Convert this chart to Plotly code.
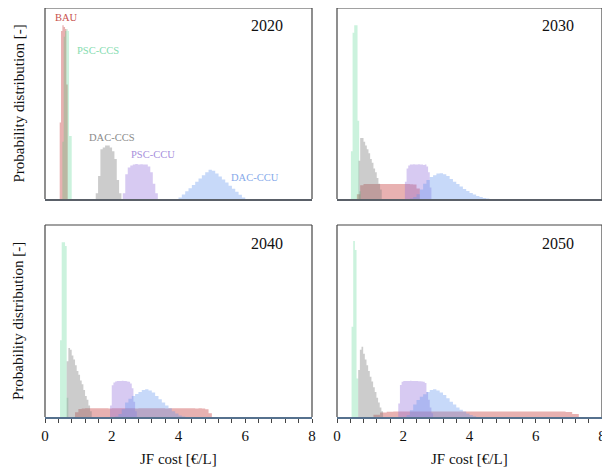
import plotly.graph_objects as go

# ---------------- data (bin start, bin width) + heights (% of panel height) ----------
years = ["2020", "2030", "2040", "2050"]
series = ["BAU", "PSC-CCS", "DAC-CCS", "PSC-CCU", "DAC-CCU"]

# 2020
bau_2020_bins = (0.44, 0.04)
bau_2020 = [40, 88, 91, 90, 89, 60]
psc_ccs_2020_bins = (0.52, 0.04)
psc_ccs_2020 = [30, 85, 88, 89, 88, 33, 33]
dac_ccs_2020_bins = (1.52, 0.07)
dac_ccs_2020 = [3, 12, 26, 27, 28, 28, 27, 25, 21, 10, 3]
psc_ccu_2020_bins = (2.33, 0.075)
psc_ccu_2020 = [3, 13, 16.5, 17.5, 18, 18.3, 18, 18.2, 18, 18, 17, 14, 8, 3]
dac_ccu_2020_bins = (4.0, 0.1)
dac_ccu_2020 = [0.8, 2.4, 4, 5.6, 7.3, 9, 10.7, 12.4, 14, 15.3, 14.8, 13.4, 11.8, 10.2,
                8.6, 7, 5.4, 3.8, 2.2, 0.8]

# 2030
bau_2030_bins = (0.6, 0.1)
bau_2030 = [2.5, 7.2, 7.8, 7.9, 7.8, 7.8, 7.9, 7.8, 7.8, 7.9, 7.8, 7.8, 7.9, 7.8, 7.8,
            7.8, 7.7, 7.6, 5.5]
psc_ccs_2030_bins = (0.42, 0.05)
psc_ccs_2030 = [25, 87, 91, 91, 41, 4]
dac_ccs_2030_bins = (0.65, 0.05)
dac_ccs_2030 = [20, 32, 32, 30, 28, 26, 24, 21, 19, 16, 14, 11, 8, 5]
psc_ccu_2030_bins = (2.05, 0.05)
psc_ccu_2030 = [9, 16, 17.5, 18, 18, 18.2, 18, 18, 18.2, 18, 18, 17.8, 18, 17, 14, 6]
dac_ccu_2030_bins = (2.2, 0.1)
dac_ccu_2030 = [0.3, 1, 2.5, 5, 8, 10, 11.5, 12.5, 13.3, 13.5, 13, 12, 10.5, 9, 7.8, 6.5,
                5.2, 4.2, 3.2, 2.3, 1.6, 1, 0.5, 0.2]

# 2040
bau_2040_bins = (0.9, 0.1)
bau_2040 = [2.5, 4.2, 4.4, 4.5, 4.5, 4.5, 4.6, 4.5, 4.5, 4.5, 4.4, 4.5, 4.5, 4.6, 4.5,
            4.5, 4.5, 4.5, 4.4, 4.5, 4.5, 4.5, 4.6, 4.5, 4.5, 4.5, 4.5, 4.4, 4.5, 4.5,
            4.5, 4.6, 4.5, 4.5, 4.5, 4.5, 4.4, 4.5, 4.4, 4.0, 2.0]
psc_ccs_2040_bins = (0.45, 0.05)
psc_ccs_2040 = [40, 91, 91, 89, 10]
dac_ccs_2040_bins = (0.65, 0.05)
dac_ccs_2040 = [29, 36, 35, 32, 30, 27, 24, 22, 19, 17, 14, 11, 9, 6, 3]
psc_ccu_2040_bins = (1.95, 0.05)
psc_ccu_2040 = [6, 16.5, 18, 18.5, 18.7, 18.8, 18.8, 18.9, 18.8, 18.7, 18.5, 18.3, 17.5,
                15, 8, 3]
dac_ccu_2040_bins = (2.1, 0.1)
dac_ccu_2040 = [0.3, 1.5, 4, 7.5, 9.5, 11, 12, 13, 14, 14.4, 13.8, 12.8, 11, 9.2, 7.5, 6,
                4.5, 3, 1.8, 0.8, 0.3]

# 2050
bau_2050_bins = (1.1, 0.2)
bau_2050 = [1.2, 2.4, 2.7, 2.8, 2.8, 2.8, 2.8, 2.8, 2.8, 2.8, 2.8, 2.8, 2.8, 2.8, 2.8,
            2.8, 2.8, 2.8, 2.8, 2.8, 2.8, 2.8, 2.8, 2.8, 2.8, 2.8, 2.8, 2.8, 2.8, 2.6, 1.5]
psc_ccs_2050_bins = (0.44, 0.05)
psc_ccs_2050 = [47, 91.7, 87, 20]
dac_ccs_2050_bins = (0.64, 0.05)
dac_ccs_2050 = [24.5, 35, 36.6, 33, 30, 27, 24, 21, 18.5, 15.5, 13, 10, 7.5, 5, 3]
psc_ccu_2050_bins = (1.85, 0.05)
psc_ccu_2050 = [7, 16.7, 18.3, 18.7, 18.7, 18.8, 18.8, 18.9, 18.8, 18.8, 18.7, 18.7, 18.6,
                18.6, 18.5, 18.3, 17.7, 13, 9, 5, 2]
dac_ccu_2050_bins = (2.1, 0.1)
dac_ccu_2050 = [1, 3.5, 6.5, 8.8, 10.5, 11.8, 13, 14, 14.4, 13.8, 12.8, 11.5, 9.8, 8, 6.5,
                5, 3.8, 2.8, 1.8, 1, 0.4]

x_ticks = [0, 2, 4, 6, 8]
x_tick_labels = ["0", "2", "4", "6", "8"]

# label positions for the 2020 panel (data coordinates)
label_x = [0.64, 1.60, 2.00, 3.23, 6.29]
label_y = [94.8, 77.6, 32.3, 23.4, 11.5]

panel_data = {
    "2020": [(bau_2020_bins, bau_2020), (psc_ccs_2020_bins, psc_ccs_2020),
             (dac_ccs_2020_bins, dac_ccs_2020), (psc_ccu_2020_bins, psc_ccu_2020),
             (dac_ccu_2020_bins, dac_ccu_2020)],
    "2030": [(bau_2030_bins, bau_2030), (psc_ccs_2030_bins, psc_ccs_2030),
             (dac_ccs_2030_bins, dac_ccs_2030), (psc_ccu_2030_bins, psc_ccu_2030),
             (dac_ccu_2030_bins, dac_ccu_2030)],
    "2040": [(bau_2040_bins, bau_2040), (psc_ccs_2040_bins, psc_ccs_2040),
             (dac_ccs_2040_bins, dac_ccs_2040), (psc_ccu_2040_bins, psc_ccu_2040),
             (dac_ccu_2040_bins, dac_ccu_2040)],
    "2050": [(bau_2050_bins, bau_2050), (psc_ccs_2050_bins, psc_ccs_2050),
             (dac_ccs_2050_bins, dac_ccs_2050), (psc_ccu_2050_bins, psc_ccu_2050),
             (dac_ccu_2050_bins, dac_ccu_2050)],
}

# ---------------- styles ----------------
fill_colors = ["rgba(200,70,70,0.42)", "rgba(55,205,122,0.26)", "rgba(128,128,128,0.40)",
               "rgba(147,112,219,0.37)", "rgba(100,149,237,0.36)"]
text_colors = ["#c8504e", "#86dcb0", "#8a8a8a", "#a78fdc", "#86a9ea"]
FONT = "Liberation Serif"

# the page body has an 8px margin: work in screen pixels, convert to figure pixels
OFF = 8
W, H = 602, 460
SL, SR, ST, SB = 45, 602, 8, 417          # screen extents of the plotting block
ml, mr, mt, mb = SL - OFF, W - (SR - OFF), ST - OFF, H - (SB - OFF)


def dom_x(a, b):
    return [(a - SL) / (SR - SL), (b - SL) / (SR - SL)]


def dom_y(top, bot):
    return [(SB - bot) / (SB - ST), (SB - top) / (SB - ST)]


xdoms = [dom_x(45, 312), dom_x(337, 602)]
ydoms = [dom_y(8, 199), dom_y(225, 417)]

fig = go.Figure()
layout = dict(width=W, height=H, margin=dict(l=ml, r=mr, t=mt, b=mb, autoexpand=False),
              paper_bgcolor="white", plot_bgcolor="white", showlegend=False,
              font=dict(family=FONT, size=14, color="#111"))
annotations = []
shapes = []

for i, yr in enumerate(years):
    r, c = divmod(i, 2)
    k = i + 1
    xa = "x" if k == 1 else f"x{k}"
    ya = "y" if k == 1 else f"y{k}"
    for j, ((start, width), heights) in enumerate(panel_data[yr]):
        edges = [start + width * n for n in range(len(heights) + 1)]
        xs = [edges[0]] + edges + [edges[-1]]
        ys = [0] + list(heights) + [heights[-1], 0]
        fig.add_trace(go.Scatter(x=xs, y=ys, mode="lines", line=dict(width=0, shape="hv"),
                                 fill="toself", fillcolor=fill_colors[j],
                                 name=series[j], xaxis=xa, yaxis=ya, hoverinfo="name"))
    bottom = (r == 1)
    layout["xaxis" if k == 1 else f"xaxis{k}"] = dict(
        domain=xdoms[c], anchor=ya, range=[0, 8], showgrid=False, zeroline=False,
        showline=True, linewidth=1.5,
        linecolor="#56718e" if bottom else "#5a6068",
        tickvals=x_ticks if bottom else [], ticktext=x_tick_labels if bottom else [],
        showticklabels=bottom, ticks="outside" if bottom else "", ticklen=4,
        tickcolor="#444", tickwidth=1, tickfont=dict(family=FONT, size=15, color="#111"),
        minor=dict(dtick=0.4, tick0=0, ticks="outside" if bottom else "", ticklen=4,
                   tickcolor="#444", tickwidth=1, showgrid=False),
    )
    layout["yaxis" if k == 1 else f"yaxis{k}"] = dict(
        domain=ydoms[r], anchor=xa, range=[0, 100], showgrid=False, zeroline=False,
        showticklabels=False, ticks="", showline=False,
    )
    xd = "x domain" if k == 1 else f"x{k} domain"
    yd = "y domain" if k == 1 else f"y{k} domain"
    for (x0, y0, x1, y1) in [(0, 0, 0, 1), (1, 0, 1, 1), (0, 1, 1, 1)]:
        shapes.append(dict(type="line", xref=xd, yref=yd, x0=x0, y0=y0, x1=x1, y1=y1,
                           line=dict(color="#444", width=1.2)))
    annotations.append(dict(text=yr, xref=xd, yref=yd, x=0.9, y=0.906, xanchor="right",
                            yanchor="middle", showarrow=False,
                            font=dict(family=FONT, size=16, color="#111")))

# series labels in the 2020 panel
for j, name in enumerate(series):
    annotations.append(dict(text=name, xref="x", yref="y", x=label_x[j], y=label_y[j],
                            xanchor="center", yanchor="middle", showarrow=False,
                            font=dict(family=FONT, size=10.5, color=text_colors[j])))

# axis titles (positions in screen pixels converted to paper fractions)
for r in range(2):
    yc = (ydoms[r][0] + ydoms[r][1]) / 2
    annotations.append(dict(text="Probability distribution [-]", xref="paper", yref="paper",
                            x=(18 - SL) / (SR - SL), y=yc, textangle=-90, showarrow=False,
                            xanchor="center", yanchor="middle",
                            font=dict(family=FONT, size=15, color="#111")))
for c in range(2):
    xc = (xdoms[c][0] + xdoms[c][1]) / 2
    annotations.append(dict(text="JF cost [€/L]", xref="paper", yref="paper",
                            x=xc, y=(SB - 459) / (SB - ST), showarrow=False,
                            xanchor="center", yanchor="middle",
                            font=dict(family=FONT, size=15, color="#111")))

layout["annotations"] = annotations
layout["shapes"] = shapes
fig.update_layout(**layout)
fig.write_html("out.html")
